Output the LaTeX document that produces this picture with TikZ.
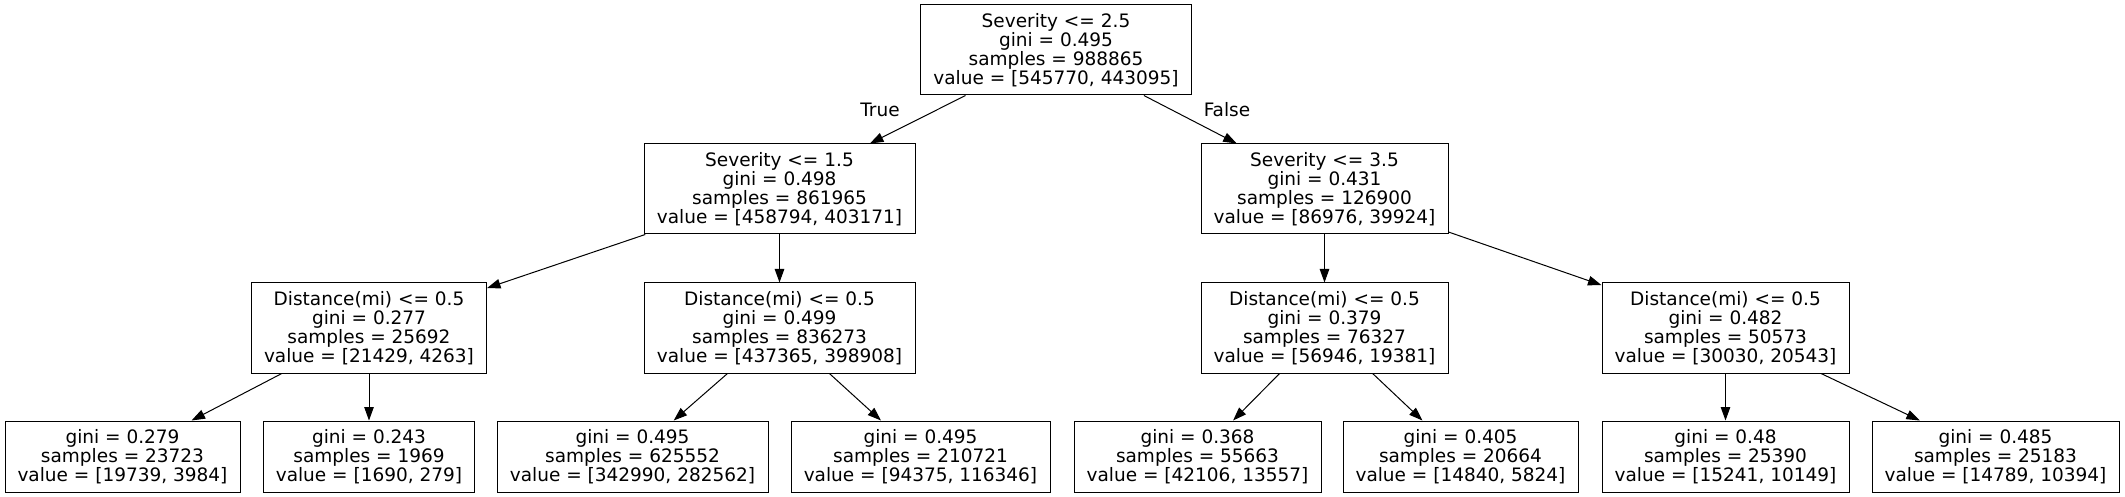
\documentclass[tikz,border=0pt]{standalone}
\usepackage{fontspec}
\setmainfont{DejaVu Sans}
\usetikzlibrary{arrows.meta}
\tikzset{
  tnode/.style={draw=black, line width=0.5pt, rectangle, inner sep=0pt, align=center,
    font=\fontsize{9.25pt}{9.5pt}\selectfont, minimum height=45pt},
  leafnode/.style={tnode, minimum height=35.5pt},
  conn/.style={-{Triangle[length=6.75pt,width=4.75pt]}, line width=0.5pt},
  elabel/.style={font=\fontsize{9.25pt}{9.5pt}\selectfont, inner sep=0pt}
}
\begin{document}
\begin{tikzpicture}[x=0.5pt,y=-0.5pt]
\fill[white] (0,0) rectangle (2125,497);
\useasboundingbox (0,0) rectangle (2125,497);
% internal nodes
\node[tnode, minimum width=135.5pt] (root) at (1056,50) {Severity <= 2.5\\gini = 0.495\\samples = 988865\\value = [545770, 443095]};
\node[tnode, minimum width=135.5pt] (n1) at (779.5,189) {Severity <= 1.5\\gini = 0.498\\samples = 861965\\value = [458794, 403171]};
\node[tnode, minimum width=123.5pt] (n2) at (1324.5,189) {Severity <= 3.5\\gini = 0.431\\samples = 126900\\value = [86976, 39924]};
\node[tnode, minimum width=117.5pt] (n3) at (369,328) {Distance(mi) <= 0.5\\gini = 0.277\\samples = 25692\\value = [21429, 4263]};
\node[tnode, minimum width=135.5pt] (n4) at (779.5,328) {Distance(mi) <= 0.5\\gini = 0.499\\samples = 836273\\value = [437365, 398908]};
\node[tnode, minimum width=123.5pt] (n5) at (1324.5,328) {Distance(mi) <= 0.5\\gini = 0.379\\samples = 76327\\value = [56946, 19381]};
\node[tnode, minimum width=123.5pt] (n6) at (1725.5,328) {Distance(mi) <= 0.5\\gini = 0.482\\samples = 50573\\value = [30030, 20543]};
% leaves
\node[leafnode, minimum width=117.5pt] (l1) at (122.5,456.5) {gini = 0.279\\samples = 23723\\value = [19739, 3984]};
\node[leafnode, minimum width=105.5pt] (l2) at (369,456.5) {gini = 0.243\\samples = 1969\\value = [1690, 279]};
\node[leafnode, minimum width=135.5pt] (l3) at (632.5,456.5) {gini = 0.495\\samples = 625552\\value = [342990, 282562]};
\node[leafnode, minimum width=129.5pt] (l4) at (920.5,456.5) {gini = 0.495\\samples = 210721\\value = [94375, 116346]};
\node[leafnode, minimum width=123.5pt] (l5) at (1197.5,456.5) {gini = 0.368\\samples = 55663\\value = [42106, 13557]};
\node[leafnode, minimum width=117.5pt] (l6) at (1460.5,456.5) {gini = 0.405\\samples = 20664\\value = [14840, 5824]};
\node[leafnode, minimum width=123.5pt] (l7) at (1725.5,456.5) {gini = 0.48\\samples = 25390\\value = [15241, 10149]};
\node[leafnode, minimum width=123.5pt] (l8) at (1995.5,456.5) {gini = 0.485\\samples = 25183\\value = [14789, 10394]};
% edges
\draw[conn] (root) -- (n1);
\draw[conn] (root) -- (n2);
\draw[conn] (n1) -- (n3);
\draw[conn] (n1) -- (n4);
\draw[conn] (n2) -- (n5);
\draw[conn] (n2) -- (n6);
\draw[conn] (n3) -- (l1);
\draw[conn] (n3) -- (l2);
\draw[conn] (n4) -- (l3);
\draw[conn] (n4) -- (l4);
\draw[conn] (n5) -- (l5);
\draw[conn] (n5) -- (l6);
\draw[conn] (n6) -- (l7);
\draw[conn] (n6) -- (l8);
% edge labels
\node[elabel] (tlab) at (880,110) {True};
\node[elabel] (flab) at (1227,110) {False};
\end{tikzpicture}
\end{document}
